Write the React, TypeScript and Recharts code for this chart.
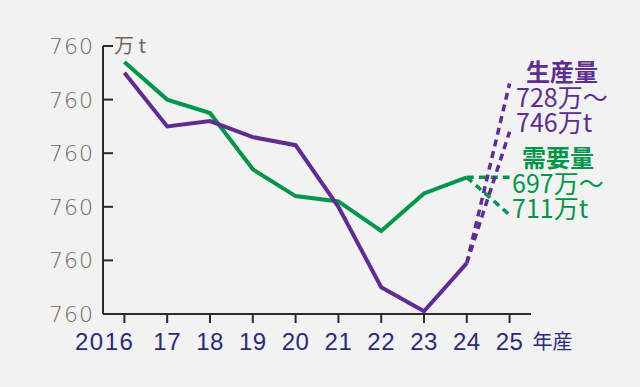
import type { FC } from "react";
import { LineChart, Line, XAxis, YAxis } from "recharts";

const years = [16, 17, 18, 19, 20, 21, 22, 23, 24, 25];
const xTickLabels = ["2016", "17", "18", "19", "20", "21", "22", "23", "24", "25"];
const production = [750, 730, 732, 726, 723, 700, 670, 661, 679, null];
const demand = [754, 740, 735, 714, 704, 702, 691, 705, 711, null];
const productionOutlook = [728, 746];
const demandOutlook = [697, 711];
const yTicks = [660, 680, 700, 720, 740, 760];
const yTickLabels = ["760", "760", "760", "760", "760", "760"];

const LAST = 8; // last actual year (24)

const data = years.map((year, i) => ({
  year,
  production: production[i],
  demand: demand[i],
  prodLow: i === LAST ? production[i] : i === LAST + 1 ? productionOutlook[0] : null,
  prodHigh: i === LAST ? production[i] : i === LAST + 1 ? productionOutlook[1] : null,
  demLow: i === LAST ? demand[i] : i === LAST + 1 ? demandOutlook[0] : null,
  demHigh: i === LAST ? demand[i] : i === LAST + 1 ? demandOutlook[1] : null,
}));

const PURPLE = "#5e2d8f";
const GREEN = "#00964a";
const AXIS = "#2a2a2a";
const GRAY_TEXT = "#76675c";
const NAVY = "#2b2a78";
const NUM_FONT = "'DejaVu Sans', sans-serif";
const X_FONT = "'Liberation Sans', sans-serif";
const JP_FONT = "'Noto Sans CJK JP', sans-serif";

const YTick: FC<any> = ({ x, y, index }) => (
  <g>
    <line x1={x} x2={x + 10} y1={y} y2={y} stroke={AXIS} strokeWidth={2} />
    <text
      x={x - 9}
      y={y}
      dy="0.36em"
      textAnchor="end"
      fill={GRAY_TEXT}
      fontSize={22}
      fontWeight={200}
      letterSpacing={1}
      fontFamily={NUM_FONT}
    >
      {yTickLabels[index]}
    </text>
    {index === yTicks.length - 1 && (
      <text x={x + 11} y={y} dy="0.36em" fill={GRAY_TEXT} fontSize={20} fontFamily={JP_FONT}>
        万 t
      </text>
    )}
  </g>
);

const XTick: FC<any> = ({ x, y, index }) => (
  <g>
    <text
      x={index === 0 ? x + 10 : x}
      y={y}
      dy={27}
      textAnchor={index === 0 ? "end" : "middle"}
      fill={NAVY}
      fontSize={24}
      letterSpacing={index === 0 ? 1.5 : 0.5}
      fontFamily={X_FONT}
    >
      {xTickLabels[index]}
    </text>
    {index === years.length - 1 && (
      <text x={x + 23} y={y} dy={26} fill={NAVY} fontSize={20} fontFamily={JP_FONT}>
        年産
      </text>
    )}
  </g>
);

const Note: FC<{ top: number; left: number; color: string; title: string; lines: string[] }> = ({
  top,
  left,
  color,
  title,
  lines,
}) => (
  <div
    style={{
      position: "absolute",
      top,
      left,
      color,
      fontFamily: JP_FONT,
      whiteSpace: "nowrap",
    }}
  >
    <div style={{ fontSize: 24, fontWeight: 700, lineHeight: "26px", marginLeft: 10 }}>{title}</div>
    <div style={{ fontSize: 25, lineHeight: "25px" }}>
      {lines[0]}
      <br />
      {lines[1]}
    </div>
  </div>
);

const App: FC = () => (
  <div
    style={{
      position: "absolute",
      left: 0,
      top: 0,
      width: 640,
      height: 387,
      background: "#f2f2f2",
    }}
  >
    <LineChart
      width={640}
      height={387}
      data={data}
      margin={{ top: 46, right: 109, bottom: 33, left: 23 }}
    >
      <XAxis
        dataKey="year"
        type="number"
        domain={[15.5, 25.5]}
        ticks={years}
        interval={0}
        height={40}
        tickSize={9}
        tickMargin={0}
        axisLine={{ stroke: AXIS, strokeWidth: 2 }}
        tickLine={{ stroke: AXIS, strokeWidth: 2 }}
        tick={<XTick />}
      />
      <YAxis
        type="number"
        domain={[660, 760]}
        ticks={yTicks}
        interval={0}
        width={80}
        tickSize={0}
        tickMargin={0}
        tickLine={false}
        axisLine={{ stroke: AXIS, strokeWidth: 2 }}
        tick={<YTick />}
      />
      <Line dataKey="demHigh" stroke={GREEN} strokeWidth={3.5} strokeDasharray="7 5" dot={false} isAnimationActive={false} />
      <Line dataKey="demLow" stroke={GREEN} strokeWidth={3.5} strokeDasharray="7 5" dot={false} isAnimationActive={false} />
      <Line dataKey="demand" stroke={GREEN} strokeWidth={4} dot={false} isAnimationActive={false} />
      <Line dataKey="production" stroke={PURPLE} strokeWidth={4} dot={false} isAnimationActive={false} />
      <Line dataKey="prodHigh" stroke={PURPLE} strokeWidth={3.5} strokeDasharray="7 5" dot={false} isAnimationActive={false} />
      <Line dataKey="prodLow" stroke={PURPLE} strokeWidth={3.5} strokeDasharray="7 5" dot={false} isAnimationActive={false} />
    </LineChart>
    <Note top={58} left={516} color={PURPLE} title="生産量" lines={["728万～", "746万t"]} />
    <Note top={144} left={512} color={GREEN} title="需要量" lines={["697万～", "711万t"]} />
  </div>
);

export default App;
